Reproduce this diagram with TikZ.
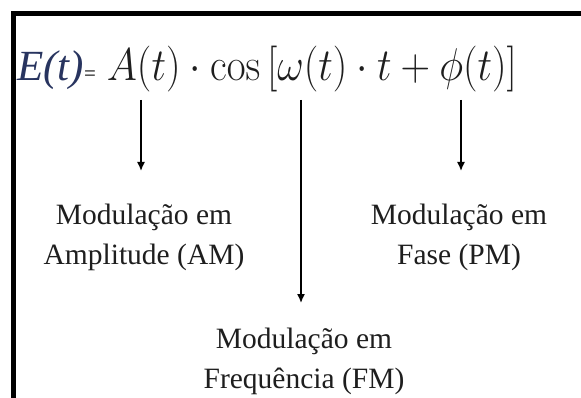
\documentclass[tikz,border=0pt]{standalone}
\usepackage{fix-cm}
\usepackage[no-math]{fontspec}
\setmainfont{Liberation Serif}
\usepackage{xcolor}
\usepackage{graphicx}
\usetikzlibrary{arrows.meta,positioning}
\definecolor{eqblue}{RGB}{40,52,95}
\definecolor{inkgray}{RGB}{30,30,30}
\tikzset{
  borderline/.style={
    draw,
    line width=5pt,
    black
  },
  lbl/.style={
    align=center,
    inner sep=0pt,
    text=inkgray,
    font=\fontsize{29.5}{40}\selectfont
  },
  conn/.style={draw, -{Latex[length=9pt,width=8pt]}, line width=1.5pt}
}

\begin{document}
\begin{tikzpicture}[x=1pt,y=-1pt]
  \useasboundingbox (0,0) rectangle (581,398);
  \draw[borderline] (13,398) -- (13,13.5) -- (581,13.5);

  \node[anchor=base west, inner sep=0pt] (eq) at (17,81)
    {{\color{eqblue}\fontsize{43}{45}\selectfont\itshape E(t)}%
     {\fontsize{21}{21}\selectfont =}\hspace{11pt}%
     {\color{inkgray}\fontsize{41}{45}\selectfont
      \scalebox{1}[1.12]{$A(t)\cdot\cos\left[\omega(t)\cdot t+\phi(t)\right]$}}};

  \coordinate (ampTop) at (141,100);
  \coordinate (freqTop) at (301,100);
  \coordinate (phaseTop) at (461,100);

  \node[lbl, anchor=north] (am) at (144,204) {Modulação em\\Amplitude (AM)};
  \node[lbl, anchor=north] (pm) at (459,204) {Modulação em\\Fase (PM)};
  \node[lbl, anchor=north] (fm) at (304,328) {Modulação em\\Frequência (FM)};

  \path (ampTop) edge[conn, shorten >=33pt] (ampTop |- am.north)
        (phaseTop) edge[conn, shorten >=33pt] (phaseTop |- pm.north)
        (freqTop) edge[conn, shorten >=25pt] (freqTop |- fm.north);
\end{tikzpicture}
\end{document}
